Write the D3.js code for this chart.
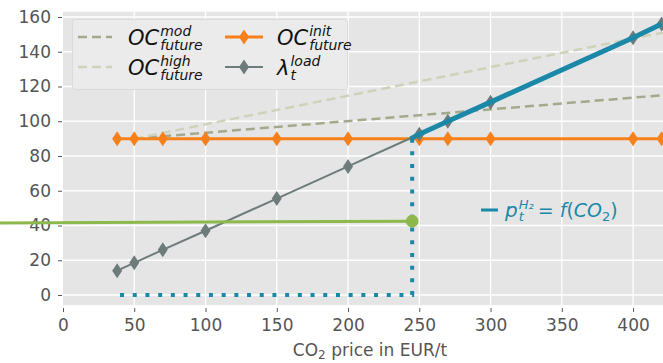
<!DOCTYPE html>
<html>
<head>
<meta charset="utf-8">
<script src="https://cdn.jsdelivr.net/npm/d3@7"></script>
<style>
  body { margin: 0; background: #fff; }
  text { font-family: "DejaVu Sans", sans-serif; }
</style>
</head>
<body>
<script>
// data
var co2 = [38, 50, 70, 100, 150, 200, 250, 270, 300, 400, 420];
var ocInit = [90, 90, 90, 90, 90, 90, 90, 90, 90, 90, 90];
var lambdaLoad = [14, 18.5, 26, 37, 55.5, 74, 92.5, 100, 111, 148, 156];
var ocDashX = [50, 421];
var ocMod = [90, 115];
var ocHigh = [90, 151];
var h2X = [244, 250, 270, 300, 400, 420];
var h2Price = [90, 92.5, 100, 111, 148, 156];
var breakEven = { x: 245, y: 90 };
var h2Cost = { x0: -45, x1: 245, y0: 41.5, y1: 42.5 };
var dottedStart = 38;
var xTicks = [0, 50, 100, 150, 200, 250, 300, 350, 400];
var yTicks = [0, 20, 40, 60, 80, 100, 120, 140, 160];

var width = 663, height = 363;
var svg = d3.select('body').append('svg')
  .attr('width', width)
  .attr('height', height);

var x = d3.scaleLinear().domain([0, 421]).range([63, 663]);
var y = d3.scaleLinear().domain([0, 160]).range([295, 17]);
var yLim = [-5.8, 163];

// plot background
svg.append('rect')
  .attr('x', x(0)).attr('y', y(yLim[1]))
  .attr('width', x(421) - x(0)).attr('height', y(yLim[0]) - y(yLim[1]))
  .attr('fill', '#e5e5e5');

// grid
svg.append('g').selectAll('line').data(xTicks.slice(1)).enter().append('line')
  .attr('x1', d => x(d)).attr('x2', d => x(d))
  .attr('y1', y(yLim[1])).attr('y2', y(yLim[0]))
  .attr('stroke', '#fff').attr('stroke-width', 1.3);
svg.append('g').selectAll('line').data(yTicks).enter().append('line')
  .attr('x1', x(0)).attr('x2', x(421))
  .attr('y1', d => y(d)).attr('y2', d => y(d))
  .attr('stroke', '#fff').attr('stroke-width', 1.3);

// axes
var yAxis = svg.append('g')
  .attr('transform', 'translate(62,0)')
  .call(d3.axisLeft(y).tickValues(yTicks).tickSize(4).tickPadding(7));
var xAxis = svg.append('g')
  .attr('transform', 'translate(0,' + (y(yLim[0]) + 3) + ')')
  .call(d3.axisBottom(x).tickValues(xTicks).tickSize(4).tickPadding(7));
[xAxis, yAxis].forEach(function(a) {
  a.select('.domain').remove();
  a.selectAll('line').attr('stroke', '#555');
  a.selectAll('text').attr('fill', '#555').style('font-size', '17px')
    .style('font-family', '"DejaVu Sans", sans-serif');
});

// x label
var xl = svg.append('text')
  .attr('x', 370).attr('y', 356)
  .attr('text-anchor', 'middle')
  .attr('fill', '#555')
  .style('font-size', '17px');
xl.append('tspan').text('CO');
xl.append('tspan').text('2').attr('dy', 3).style('font-size', '12px');
xl.append('tspan').text(' price in EUR/t').attr('dy', -3);

var line = d3.line().x(d => x(d[0])).y(d => y(d[1]));
var plot = svg.append('g');

plot.append('path').datum(d3.zip(ocDashX, ocMod))
  .attr('d', line).attr('fill', 'none')
  .attr('stroke', '#a3aa8b').attr('stroke-width', 2.5).attr('stroke-dasharray', '9,5');
plot.append('path').datum(d3.zip(ocDashX, ocHigh))
  .attr('d', line).attr('fill', 'none')
  .attr('stroke', '#cfd2b9').attr('stroke-width', 2.5).attr('stroke-dasharray', '9,5');

var diamond = function(g, data, color) {
  g.selectAll(null).data(data).enter().append('path')
    .attr('d', 'M0,-7.5L5,0L0,7.5L-5,0Z')
    .attr('transform', d => 'translate(' + x(d[0]) + ',' + y(d[1]) + ')')
    .attr('fill', color);
};

plot.append('path').datum(d3.zip(co2, ocInit))
  .attr('d', line).attr('fill', 'none')
  .attr('stroke', '#f7801a').attr('stroke-width', 3);
diamond(plot, d3.zip(co2, ocInit), '#f7801a');

plot.append('path').datum(d3.zip(co2, lambdaLoad))
  .attr('d', line).attr('fill', 'none')
  .attr('stroke', '#6e7b7b').attr('stroke-width', 2);
diamond(plot, d3.zip(co2, lambdaLoad), '#6e7b7b');

plot.append('path').datum(d3.zip(h2X, h2Price))
  .attr('d', line).attr('fill', 'none')
  .attr('stroke', '#1b88a8').attr('stroke-width', 5);

// dotted guide lines
plot.append('path').datum([[breakEven.x, breakEven.y], [breakEven.x, 0], [dottedStart, 0]])
  .attr('d', line).attr('fill', 'none')
  .attr('stroke', '#1b88a8').attr('stroke-width', 4).attr('stroke-dasharray', '4,8.7');

// green cost line, runs past the left edge
plot.append('path').datum([[h2Cost.x0, h2Cost.y0], [h2Cost.x1, h2Cost.y1]])
  .attr('d', line).attr('fill', 'none')
  .attr('stroke', '#8db84c').attr('stroke-width', 3);
plot.append('circle')
  .attr('cx', x(h2Cost.x1)).attr('cy', y(h2Cost.y1)).attr('r', 6.3)
  .attr('fill', '#8db84c');

// annotation
svg.append('line')
  .attr('x1', 481).attr('x2', 498).attr('y1', 210).attr('y2', 210)
  .attr('stroke', '#1b88a8').attr('stroke-width', 3);
var ann = svg.append('g').attr('fill', '#1b88a8');
var addMath = function(g, xPos, yPos, main, sup, sub, size, small) {
  var t = g.append('text').attr('x', xPos).attr('y', yPos)
    .style('font-size', size + 'px').style('font-style', 'italic').text(main);
  var w = t.node().getComputedTextLength();
  var ts = g.append('text').attr('x', xPos + w + 1).attr('y', yPos - size * 0.42)
    .style('font-size', small + 'px').text(sup.text).style('font-style', sup.italic ? 'italic' : 'normal');
  var tb = g.append('text').attr('x', xPos + w + 1).attr('y', yPos + size * 0.22)
    .style('font-size', small + 'px').text(sub).style('font-style', 'italic');
  return xPos + w + 1 + Math.max(ts.node().getComputedTextLength(), tb.node().getComputedTextLength());
};
var ax = addMath(ann, 505, 217, 'p', { text: 'H₂', italic: true }, 't', 20, 13);
var rest = ann.append('text').attr('x', ax + 4).attr('y', 217).style('font-size', '19px');
rest.append('tspan').text('= ');
rest.append('tspan').text('f').style('font-style', 'italic');
rest.append('tspan').text('(');
rest.append('tspan').text('CO').style('font-style', 'italic');
rest.append('tspan').text('2').attr('dy', 4).style('font-size', '13px');
rest.append('tspan').text(')').attr('dy', -4);

// legend
var leg = svg.append('g');
leg.append('rect')
  .attr('x', 72.5).attr('y', 19.5).attr('width', 275).attr('height', 70).attr('rx', 3)
  .attr('fill', '#ebebeb').attr('stroke', '#dadada');
var legRows = [
  { x: 78, y: 37, kind: 'dash', color: '#a3aa8b', sup: 'mod', sub: 'future', main: 'OC' },
  { x: 78, y: 67, kind: 'dash', color: '#cfd2b9', sup: 'high', sub: 'future', main: 'OC' },
  { x: 225, y: 37, kind: 'marker', color: '#f7801a', sup: 'init', sub: 'future', main: 'OC' },
  { x: 225, y: 67, kind: 'marker', color: '#6e7b7b', sup: 'load', sub: 't', main: 'λ' }
];
legRows.forEach(function(r) {
  var g = leg.append('g').attr('fill', '#111');
  var len = r.kind === 'dash' ? 34 : 38;
  g.append('line').attr('x1', r.x).attr('x2', r.x + len).attr('y1', r.y).attr('y2', r.y)
    .attr('stroke', r.color)
    .attr('stroke-width', r.kind === 'dash' ? 2.5 : (r.color === '#f7801a' ? 3 : 2))
    .attr('stroke-dasharray', r.kind === 'dash' ? '9,5' : null);
  if (r.kind === 'marker') {
    g.append('path').attr('d', 'M0,-7.5L5,0L0,7.5L-5,0Z')
      .attr('transform', 'translate(' + (r.x + len / 2) + ',' + r.y + ')')
      .attr('fill', r.color);
  }
  addMath(g, r.x + (r.kind === 'dash' ? 50 : 52), r.y + 8, r.main, { text: r.sup, italic: true }, r.sub, 21, 14);
});
</script>
</body>
</html>
